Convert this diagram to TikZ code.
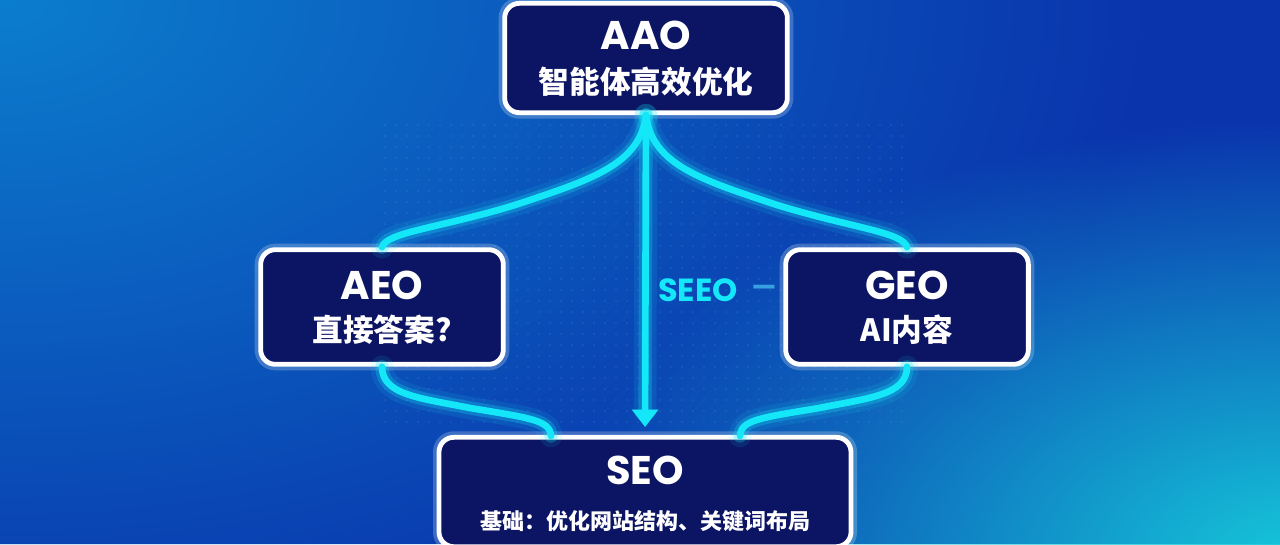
\documentclass[tikz,border=0pt]{standalone}
\usepackage{fontspec}
\setmainfont{Noto Sans CJK SC}
\newfontfamily\lat{Poppins}
\usetikzlibrary{arrows.meta,fadings,calc}
\definecolor{navy}{RGB}{12,20,100}
\definecolor{bgbase}{RGB}{10,52,172}
\definecolor{bgtl}{RGB}{12,126,206}
\definecolor{bgbr}{RGB}{22,200,218}
\definecolor{cyanc}{RGB}{20,232,248}
\definecolor{cyanlt}{RGB}{170,255,255}
\definecolor{dashc}{RGB}{55,160,225}
\tikzfading[name=radfade, inner color=transparent!0, outer color=transparent!100]
\tikzset{
  box/.style={rectangle, rounded corners=11pt, draw=white, line width=3.6pt, fill=navy,
    preaction={draw=white, line width=9pt, opacity=.22, rounded corners=11pt},
    inner sep=0pt},
  ttl/.style={inner sep=0pt, text=white, font=\lat\bfseries\fontsize{30}{33}\selectfont},
  sub/.style={inner sep=0pt, text=white, font=\bfseries\fontsize{23}{26}\selectfont},
  subsm/.style={inner sep=0pt, text=white, font=\bfseries\fontsize{16.5}{19}\selectfont},
  glowline/.style={draw=cyanc, line width=5pt, line cap=round,
    preaction={draw=cyanc, line width=17pt, opacity=.10, line cap=round},
    preaction={draw=cyanc, line width=10pt, opacity=.25, line cap=round}},
}
\begin{document}
\begin{tikzpicture}[x=0.75pt,y=-0.75pt]
\useasboundingbox (0,0) rectangle (1280,544);
\clip (0,0) rectangle (1280,544);
% background
\fill[bgbase] (0,0) rectangle (1280,544);
\fill[bgtl, path fading=radfade] (-1150,-700) rectangle (1150,700);
\fill[bgbr, path fading=radfade] (560,120) rectangle (2040,1000);
% dot grid
\foreach \i in {0,...,47}{
  \foreach \j in {0,...,27}{
    \fill[white, opacity=.12] (385+\i*11, 125+\j*11) circle (0.6pt);
  }
}
% boxes
\node[box, minimum width=212pt, minimum height=82pt] (aao) at (646,58) {};
\node[box, minimum width=182pt, minimum height=86pt] (aeo) at (382,307) {};
\node[box, minimum width=182pt, minimum height=86pt] (geo) at (907,307) {};
\node[box, minimum width=309pt, minimum height=82pt] (seo) at (645,492) {};
% coordinates for connector ends
\coordinate (seoL) at (551,436);
\coordinate (seoR) at (740,436);
% connectors
\draw[glowline] (aao.south) .. controls (640,165) and (590,180) .. (515,205)
  .. controls (440,228) and (386,232) .. (aeo.north);
\draw[glowline] (aao.south) .. controls (652,165) and (702,180) .. (777,205)
  .. controls (852,228) and (903,232) .. (geo.north);
\draw[glowline] (aeo.south) .. controls (382,395) and (420,398) .. (470,408)
  .. controls (530,418) and (550,420) .. (seoL);
\draw[glowline] (geo.south) .. controls (907,395) and (869,398) .. (819,408)
  .. controls (759,418) and (741,420) .. (seoR);
\draw[glowline, -{Triangle[width=19pt,length=13pt]}, shorten >=6pt] (aao.south) -- (seo.north);
% texts
\node[ttl] (aaoT) at (646,35) {AAO};
\node[sub] (aaoS) at (646,82) {智能体高效优化};
\node[ttl] (aeoT) at (382,285) {AEO};
\node[sub] (aeoS) at (382,330) {直接答案?};
\node[ttl] (geoT) at (907,285) {GEO};
\node[sub] (geoS) at (907,330) {AI内容};
\node[ttl] (seoT) at (645,470) {SEO};
\node[subsm] (seoS) at (645,521) {基础：优化网站结构、关键词布局};
\node[inner sep=0pt, text=cyanc, font=\lat\bfseries\fontsize{24}{27}\selectfont] (seeo) at (698,290) {SEEO};
\node[inner sep=0pt, text=dashc, font=\lat\bfseries\fontsize{20}{22}\selectfont] (dash) at (764,291) {—};
\end{tikzpicture}
\end{document}
